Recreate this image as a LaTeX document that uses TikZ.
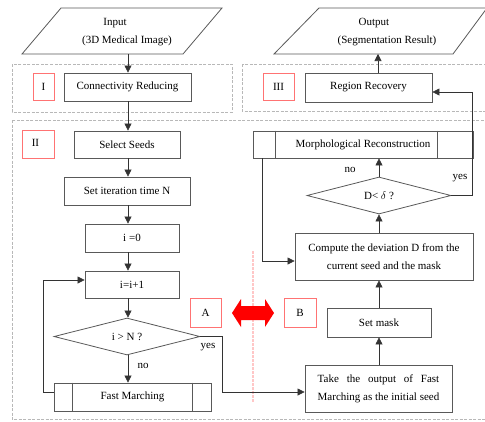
\documentclass[tikz,border=0pt]{standalone}
\usepackage{fontspec}
\setmainfont{Liberation Serif}
\usepackage{calc}
\usetikzlibrary{shapes.geometric,arrows.meta}
\begin{document}
\begin{tikzpicture}[x=1pt,y=-1pt,
  font=\fontsize{11}{18}\selectfont,
  sz/.style 2 args={minimum width=#1pt,minimum height=#2pt},
  box/.style={draw=black!65,line width=0.8pt,inner sep=0pt,align=center},
  dia/.style={box,diamond,aspect=4},
  redbox/.style={draw=red!55,line width=0.8pt,inner sep=0pt},
  group/.style={draw=black!28,line width=1pt,dash pattern=on 3pt off 1.5pt},
  arr/.style={draw=black!80,line width=0.6pt,-{Triangle[length=7pt,width=7pt]}},
  pinkline/.style={draw=red!22,line width=1.3pt,dash pattern=on 3pt off 1pt},
  lbl/.style={inner sep=0pt}]
\useasboundingbox (0,0) rectangle (485,421);
% group boxes
\draw[group] (12,64) rectangle (232,112);
\draw[group] (242,64) rectangle (495,111);
\draw[group] (12,120) rectangle (495,419.5);
% input / output
\draw[box] (61,8) -- (222,8) -- (183,54) -- (22,54) -- cycle;
\node[lbl] (in1) at (115,23) {Input};
\node[lbl] (in2) at (127,41) {(3D Medical Image)};
\coordinate (inb) at (128,54);
\draw[box] (319,8) -- (487,8) -- (453,54) -- (274,54) -- cycle;
\node[lbl] (out1) at (374,23) {Output};
\node[lbl] (out2) at (387,41) {(Segmentation Result)};
\coordinate (outb) at (378,54);
% stage labels
\node[redbox,sz={21}{27}] (rI) at (43.5,86.5) {I};
\node[redbox,sz={31}{27}] (rIII) at (278.5,86.5) {III};
\node[redbox,sz={32}{28}] (rII) at (38,144) {};
\node[lbl] (tII) at (35.5,143) {II};
\node[redbox,sz={31}{29}] (rA) at (205.5,312.5) {A};
\node[redbox,sz={32}{29}] (rB) at (300,312.5) {B};
% boxes
\node[box,sz={127}{28}] (conn) at (127.5,87) {Connectivity Reducing};
\node[box,sz={127}{29}] (rr) at (368.5,87.5) {Region Recovery};
\node[box,sz={106}{27}] (seeds) at (127,144.5) {Select Seeds};
\node[box,sz={126}{28}] (setN) at (127,191) {Set iteration time N};
\node[box,sz={94}{28}] (i0) at (132,238) {i =0};
\node[box,sz={94}{27}] (inc) at (132,284.5) {i=i+1};
\node[dia,sz={146}{37}] (d1) at (127,336.5) {i \textgreater{} N ?};
\node[box,sz={157}{28}] (fm) at (132.5,397) {Fast Marching};
\draw[box] ([xshift=19pt]fm.north west) -- ([xshift=19pt]fm.south west);
\draw[box] ([xshift=-19pt]fm.north east) -- ([xshift=-19pt]fm.south east);
\node[box,sz={220}{27}] (morph) at (363,144.5) {Morphological Reconstruction};
\draw[box] ([xshift=23pt]morph.north west) -- ([xshift=23pt]morph.south west);
\draw[box] ([xshift=-36pt]morph.north east) -- ([xshift=-36pt]morph.south east);
\node[dia,sz={144}{37}] (d2) at (379,195.5) {D\textless{} $\delta$ ?};
\node[box,sz={178}{47}] (comp) at (384,256.5) {Compute the deviation D from the\\current seed and the mask};
\node[box,sz={104}{29}] (mask) at (379,322.5) {Set mask};
\node[box,sz={147}{47},align=left] (take) at (378.5,388.5) {\makebox[\widthof{Marching as the initial seed}][s]{Take the output of Fast}\\Marching as the initial seed};
% labels
\node[lbl] (no1) at (143,366) {no};
\node[lbl] (yes1) at (208,347) {yes};
\node[lbl] (no2) at (350,170) {no};
\node[lbl] (yes2) at (460,178) {yes};
% divider and double arrow
\coordinate (pt) at (253,251);
\coordinate (pb) at (253,402);
\draw[pinkline] (pt) -- (pb);
\fill[red] (232,313) -- (241,299) -- (241,306) -- (265,306) -- (265,299) -- (274,313)
  -- (265,327) -- (265,320) -- (241,320) -- (241,327) -- cycle;
% connectors
\coordinate (cx) at (128,0);
\draw[arr] (inb) -- (inb |- conn.north);
\draw[arr] (conn.south -| cx) -- (seeds.north -| cx);
\draw[arr] (seeds.south -| cx) -- (setN.north -| cx);
\draw[arr] (setN.south -| cx) -- (i0.north -| cx);
\draw[arr] (i0.south -| cx) -- (inc.north -| cx);
\draw[arr] (inc.south -| cx) -- (d1.north -| cx);
\draw[arr] (d1.south -| cx) -- (fm.north -| cx);
\draw[arr] ([yshift=5pt]fm.west) -- (43,392) |- ([yshift=4.5pt]inc.west);
\draw[arr] (d1.east) -- (222,336.5) |- ([yshift=-3.5pt]take.west);
\draw[arr] (take.north -| mask.south) -- (mask.south);
\draw[arr] (mask.north) -- (mask.north |- comp.south);
\draw[arr] (comp.north -| d2.south) -- (d2.south);
\draw[arr] (d2.north) -- (d2.north |- morph.south);
\draw[arr] ([xshift=10pt]morph.south west) |- ([yshift=-4.5pt]comp.west);
\draw[arr] (d2.east) -- (472,195.5) |- ([yshift=-4.5pt]rr.east);
\draw[arr] (rr.north -| outb) -- (outb);
\end{tikzpicture}
\end{document}
